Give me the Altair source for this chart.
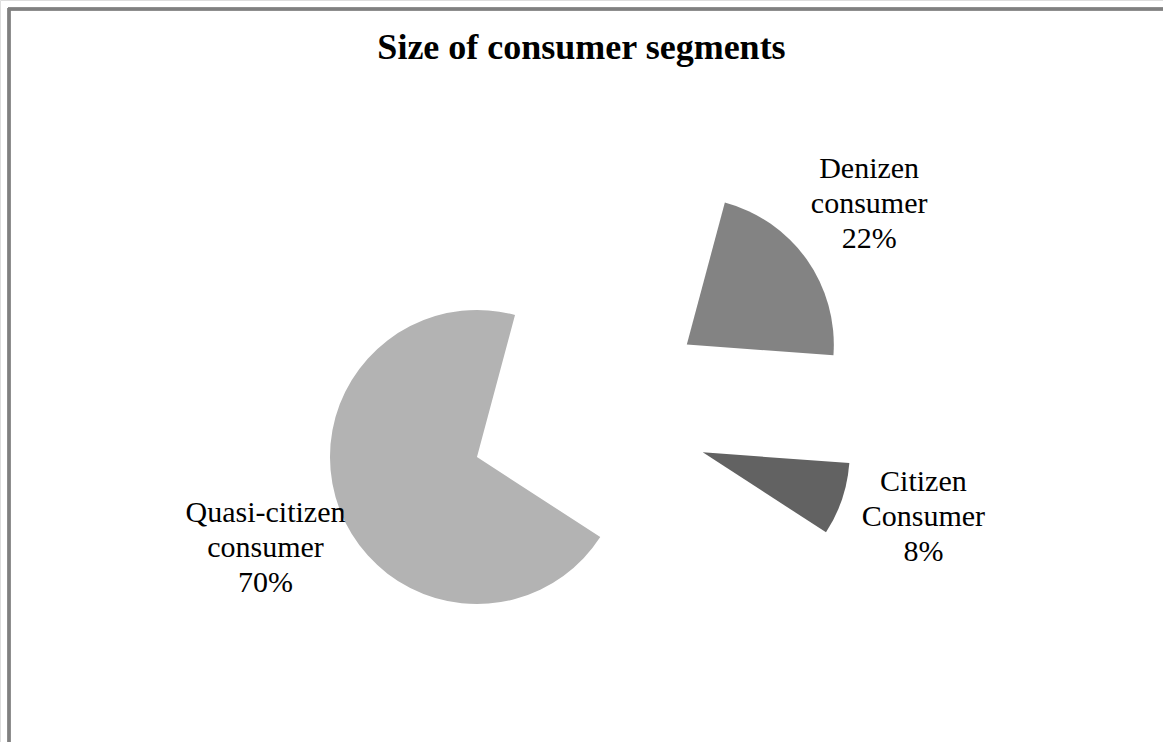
import math
import altair as alt
import pandas as pd

# ---- data ----
segments = ["Denizen consumer", "Citizen Consumer", "Quasi-citizen consumer"]
label_lines = ["Denizen\nconsumer", "Citizen\nConsumer", "Quasi-citizen\nconsumer"]
values = [22, 8, 70]
order = [1, 2, 3]
colors = ["#838383", "#626262", "#b3b3b3"]

df = pd.DataFrame({
    "segment": segments,
    "label": label_lines,
    "value": values,
    "order": order,
})

# ---- layout constants ----
W, H = 1163, 742
CX, CY = 589, 414          # centre of the un-exploded pie
R = 147                    # pie radius
EXPLODE = 120              # explosion distance
LABEL_R = 350              # label distance from pie centre
LINE_H = 35
START = 15 * math.pi / 180  # first slice starts at 15 degrees

base = (
    alt.Chart(df)
    .transform_joinaggregate(total="sum(value)")
    .transform_window(cum="sum(value)", sort=[alt.SortField("order")], frame=[None, 0])
    .transform_calculate(
        t0=f"{START} + 2*PI*(datum.cum - datum.value)/datum.total",
        t1=f"{START} + 2*PI*datum.cum/datum.total",
    )
    .transform_calculate(mid="(datum.t0 + datum.t1)/2")
    .transform_calculate(
        ex=f"{CX} + {EXPLODE}*sin(datum.mid)",
        ey=f"{CY} - {EXPLODE}*cos(datum.mid)",
        lx=f"{CX} + {LABEL_R}*sin(datum.mid - 0.025)",
        ly=f"{CY} - {LABEL_R}*cos(datum.mid - 0.025)",
        txt="datum.label + '\\n' + datum.value + '%'",
    )
)

arcs = base.mark_arc(radius=R).encode(
    theta=alt.Theta("t0:Q", scale=None, stack=None),
    theta2="t1:Q",
    x=alt.X("ex:Q", scale=None, stack=None),
    y=alt.Y("ey:Q", scale=None, stack=None),
    color=alt.Color("segment:N", scale=alt.Scale(domain=segments, range=colors), legend=None),
    tooltip=["segment:N", "value:Q"],
)

labels = base.mark_text(
    font="Liberation Serif",
    fontSize=30,
    lineBreak="\n",
    lineHeight=LINE_H,
    align="center",
    baseline="middle",
    dy=-LINE_H,
    color="#000000",
).encode(
    x=alt.X("lx:Q", scale=None, stack=None),
    y=alt.Y("ly:Q", scale=None, stack=None),
    text="txt:N",
)

border_top = alt.Chart(df).mark_rule(color="#808080", strokeWidth=3).encode(
    x=alt.value(8), x2=alt.value(W), y=alt.value(9)
)
border_left = alt.Chart(df).mark_rule(color="#808080", strokeWidth=3).encode(
    x=alt.value(9), y=alt.value(8), y2=alt.value(H)
)

chart = (
    alt.layer(border_top, border_left, arcs, labels)
    .properties(
        width=W,
        height=H,
        padding=0,
        autosize=alt.AutoSizeParams(type="none"),
        title=alt.TitleParams(
            text="Size of consumer segments",
            font="Liberation Serif",
            fontSize=36,
            fontWeight="bold",
            color="#000000",
            anchor="middle",
            baseline="alphabetic",
            offset=0,
            dy=95,
        ),
    )
    .configure_view(stroke=None)
    .configure(background="#ffffff")
)

chart.save("out.html", embed_options={"renderer": "svg", "actions": False})
